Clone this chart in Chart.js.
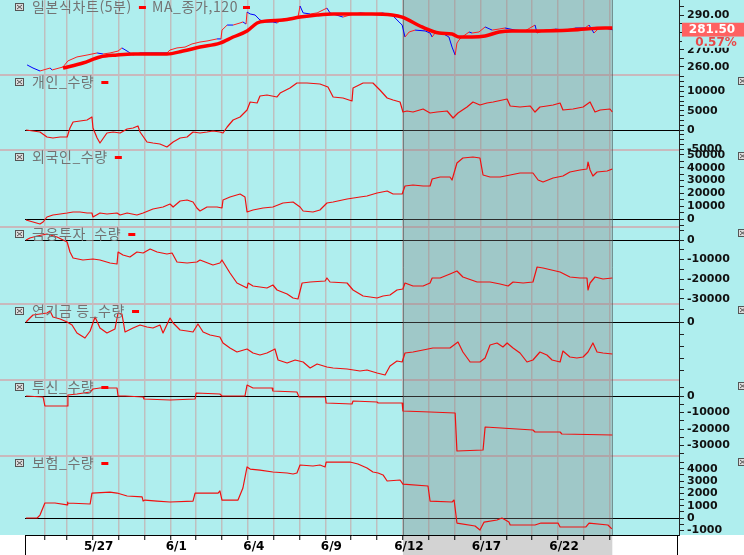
<!DOCTYPE html>
<html lang="ko"><head><meta charset="utf-8"><title>일본식차트</title>
<script src="https://cdn.jsdelivr.net/npm/chart.js@4.4.1/dist/chart.umd.min.js"></script>
<style>
html,body{margin:0;padding:0;background:#ffffff;overflow:hidden;}
#box{position:relative;width:744px;height:555px;}
canvas{display:block;}
</style></head><body>
<div id="box"><canvas id="cv" width="744" height="555"></canvas></div>
<script>
// ================= DATA =================
// day boundaries on the time axis (unit = trading day)
const dayTicks = [0.15,1,2,3,4,5,6,7,8,9,10,11,12,13,14,15,16,17,18,19,20,21,22];
const dayLabels = ['5/25','5/26','5/27','5/28','5/29','6/1','6/2','6/3','6/4','6/5','6/8','6/9','6/10','6/11','6/12','6/15','6/16','6/17','6/18','6/19','6/22','6/23',''];
const shownDays = ['5/27','6/1','6/4','6/9','6/12','6/17','6/22'];
const shadeFromDay = '6/12';

const panelTitles = ['일본식차트(5분)','개인_수량','외국인_수량','금융투자_수량','연기금 등_수량','투신_수량','보험_수량'];
const maLabel = 'MA_종가,120';
const changePct = '0.57%';

// price (5-min close)
const priceT = [-0.54,-0.31,-0.04,0.35,0.43,0.85,1.04,1.39,1.78,2.17,2.40,2.67,2.98,3.13,3.33,3.56,3.83,4.22,4.60,4.87,4.99,5.26,5.57,5.84,6.15,6.42,6.81,6.96,7.00,7.20,7.43,7.70,7.81,7.93,7.97,8.09,8.28,8.47,8.74,8.97,9.13,9.36,9.75,9.94,10.02,10.14,10.41,10.68,11.06,11.18,11.30,11.68,11.95,12.34,12.73,13.19,13.58,13.85,13.97,14.08,14.24,14.47,14.86,15.05,15.13,15.24,15.51,15.78,15.90,16.02,16.09,16.17,16.29,16.56,16.67,16.94,17.18,17.45,17.72,17.95,18.34,18.72,19.11,19.19,19.50,19.89,20.27,20.66,21.04,21.20,21.39,21.59,21.82,22.10];
const priceV = [261.2,259.4,257.7,259.4,258.3,260.0,263.5,265.8,266.9,268.1,267.5,268.1,269.2,271.0,269.2,266.9,268.1,268.1,268.1,268.1,269.8,271.0,271.5,273.3,274.4,275.0,276.2,276.2,281.3,284.2,284.2,285.4,286.0,284.8,291.7,290.6,290.0,287.1,286.0,286.0,285.4,287.7,288.3,288.8,295.2,291.2,290.6,291.2,294.0,291.2,290.6,288.8,290.0,291.2,290.6,291.2,290.0,286.0,284.2,277.3,280.2,281.3,280.8,279.6,277.3,279.6,279.6,277.3,271.5,266.9,273.8,275.6,277.3,280.2,279.6,280.2,283.1,281.3,281.9,282.5,281.3,280.8,284.2,279.6,281.3,281.9,281.3,282.5,282.5,284.2,279.6,282.5,282.5,281.5];

// MA 120
const maT = [0.85,1.62,2.28,2.94,3.56,4.22,4.87,5.49,6.15,6.92,7.43,7.97,8.36,8.74,9.36,10.02,10.68,11.30,11.95,12.80,13.58,13.97,14.74,15.40,15.90,16.17,16.67,17.18,17.72,18.22,19.26,20.54,21.82,22.10];
const maV = [259.4,262.3,265.8,266.9,267.5,267.5,267.5,269.2,271.5,273.8,277.3,280.8,285.4,286.5,287.1,288.8,290.0,290.6,290.6,290.6,290.0,288.8,283.1,279.6,279.0,277.3,277.3,277.9,280.2,280.8,280.8,281.3,282.5,282.5];

// 개인
const indT = [-0.58,-0.31,-0.04,0.23,0.46,0.74,1.01,1.12,1.24,1.51,1.78,1.97,2.01,2.17,2.28,2.55,2.79,3.06,3.33,3.56,3.75,3.83,4.10,4.33,4.60,4.87,5.11,5.38,5.65,5.88,6.15,6.42,6.65,6.92,7.04,7.20,7.43,7.70,7.97,8.09,8.36,8.47,8.74,9.13,9.25,9.63,9.90,10.29,10.79,11.10,11.30,11.68,12.03,12.07,12.46,12.84,13.11,13.39,13.62,13.89,14.00,14.16,14.39,14.78,15.05,15.32,15.71,15.94,16.13,16.48,16.71,16.98,17.25,17.49,18.03,18.15,18.53,18.92,19.11,19.30,19.57,19.81,20.08,20.19,20.58,20.97,21.24,21.43,21.63,22.01,22.10];
const indV = [0,-260,-520,-1810,-2070,-1810,-1810,520,2070,2330,2590,3370,520,-2070,-3370,-780,-520,-780,260,520,1040,-520,-3110,-3370,-3630,-4400,-3110,-2070,-1810,-520,-780,-520,-260,-520,-780,780,2590,3370,5180,7250,6990,8810,9070,8550,9580,10880,12170,12170,11910,11140,8550,8290,7510,10880,12170,12170,10360,8290,7770,7250,4660,4920,4660,5440,4400,4660,4920,3110,4400,5960,7250,6480,6990,7250,8030,6220,5960,6220,4660,5960,6220,6480,6990,5180,5440,5960,7250,4660,5180,5440,4660];

// 외국인
const forT = [-0.58,-0.31,-0.04,0.08,0.23,0.46,0.74,1.01,1.24,1.51,1.78,1.97,2.01,2.28,2.55,2.94,3.06,3.33,3.71,3.95,4.33,4.72,4.99,5.11,5.38,5.65,5.88,6.03,6.15,6.42,6.81,7.00,7.04,7.31,7.70,7.89,7.97,8.20,8.59,8.97,9.36,9.75,10.02,10.14,10.52,10.79,11.06,11.30,11.84,12.34,12.61,13.00,13.39,13.62,13.97,14.08,14.39,14.78,15.05,15.13,15.44,15.82,15.90,16.09,16.32,16.71,16.98,17.10,17.37,17.76,18.15,18.53,19.03,19.23,19.42,19.81,20.19,20.46,20.85,21.12,21.16,21.24,21.35,21.51,21.90,22.10];
const forV = [-780,-2340,-3900,-2340,1560,3120,3900,4690,5470,5470,4690,4690,1560,4690,3900,4690,3120,4690,3120,4690,7810,9370,11720,9370,14060,14840,13280,8590,6250,9370,9370,8590,14840,17180,19530,17180,5470,7030,8590,9370,12500,13280,9370,6250,5470,7030,12500,13280,15620,17180,17960,20310,21870,19530,19530,25770,26550,25770,25770,31240,32800,32800,30460,43740,47640,48420,47640,34360,32800,32800,34360,35930,35930,30460,28900,32020,33580,36710,38270,39050,44520,38270,33580,36710,37490,39050];

// 금융투자
const finT = [-0.58,-0.43,-0.15,0.23,0.62,1.01,1.12,1.24,1.62,2.01,2.28,2.67,2.94,2.98,3.17,3.44,3.71,3.95,4.22,4.49,4.87,5.07,5.26,5.65,6.03,6.15,6.65,6.92,7.00,7.31,7.58,7.97,8.01,8.20,8.74,8.97,9.13,9.52,9.75,9.94,10.10,10.41,10.99,11.06,11.18,11.84,12.07,12.46,13.00,13.23,13.50,13.77,14.00,14.08,14.39,14.78,15.05,15.13,15.44,15.82,16.09,16.32,16.87,17.37,17.76,18.07,18.26,18.65,19.03,19.19,19.42,20.08,20.46,20.85,21.12,21.16,21.24,21.43,21.74,22.10];
const finV = [0,1020,2040,3060,1530,-1020,-6120,-9180,-10200,-9690,-10200,-11730,-12240,-6120,-7650,-8670,-6120,-6630,-4590,-6120,-7140,-6630,-11220,-11730,-11220,-10200,-12750,-11730,-10200,-16830,-21930,-24480,-21930,-23460,-24480,-22950,-25500,-27540,-29580,-30090,-21930,-21420,-20910,-19380,-21420,-21930,-25500,-28560,-29580,-28560,-28050,-25500,-24990,-21930,-23460,-23460,-21930,-19380,-19380,-17340,-15810,-18870,-21420,-21420,-22440,-23460,-21420,-21930,-21420,-13770,-14280,-16320,-18870,-19380,-19380,-25500,-21930,-18870,-19890,-19380];

// 연기금 등
const penT = [-0.58,-0.43,-0.31,-0.04,0.23,0.35,0.46,0.74,1.01,1.20,1.39,1.70,1.90,2.09,2.28,2.55,2.86,2.98,3.13,3.25,3.56,3.83,4.10,4.33,4.60,4.72,4.99,5.11,5.38,5.65,5.88,6.07,6.27,6.54,6.92,7.04,7.31,7.58,7.97,8.20,8.47,8.74,9.05,9.17,9.52,9.83,10.14,10.41,10.68,11.06,11.30,11.84,12.34,12.61,13.00,13.31,13.50,13.77,13.97,14.08,14.39,14.78,15.16,15.55,15.82,16.13,16.32,16.60,16.98,17.18,17.37,17.64,17.87,18.03,18.26,18.53,18.80,19.03,19.30,19.57,19.77,20.08,20.19,20.46,20.73,20.97,21.16,21.35,21.51,21.74,22.10];
const penV = [0,3330,5830,6660,7500,9160,4170,2500,0,-2500,-9160,-13330,-7500,4170,-5000,-9160,-5830,7500,6660,-8330,-5000,-2500,-4170,-5000,-2500,-9160,3330,-830,-6660,-7500,-8330,-1670,-8330,-10830,-12500,-17490,-21660,-24990,-22490,-25820,-27490,-25820,-22490,-31650,-34150,-31650,-33320,-38320,-34990,-37490,-38320,-39150,-40820,-39980,-42480,-44150,-36650,-32490,-33320,-25820,-24990,-23320,-21660,-21660,-21660,-16660,-24990,-33320,-33320,-29990,-19160,-17490,-20830,-17490,-21660,-25820,-33320,-31650,-24990,-27490,-31650,-33320,-24160,-29160,-29990,-29160,-24990,-17490,-24990,-25820,-26660];

// 투신
const truT = [-0.58,0.08,0.15,1.01,1.04,1.39,1.90,2.01,2.28,2.94,2.98,3.25,3.95,3.98,4.99,5.96,6.00,6.92,7.00,7.89,7.97,8.20,8.94,8.97,9.90,9.98,11.00,11.03,12.03,12.07,13.00,13.04,13.97,14.00,15.05,16.02,16.09,17.10,17.18,19.03,19.11,20.08,20.15,22.10];
const truV = [0,-610,-6060,-6060,610,1210,2420,4240,4850,4850,0,0,-610,-1820,-2420,-1820,1820,1210,0,0,6670,4850,4850,3030,2420,-610,-610,-4240,-4850,-3030,-3640,-4240,-4240,-9090,-9700,-10300,-33330,-32720,-18790,-20600,-21820,-21820,-23030,-23630];

// 보험
const insT = [-0.58,-0.15,-0.04,0.15,0.54,1.01,1.02,1.04,1.90,1.97,2.67,2.94,3.33,3.91,3.95,4.02,4.49,4.99,5.88,5.96,6.85,6.92,7.00,7.62,7.81,7.97,8.09,8.47,8.97,9.52,9.75,9.90,10.02,10.52,10.79,10.99,11.03,11.95,12.26,12.61,12.84,13.04,13.23,13.39,13.89,14.00,14.97,15.05,15.90,15.98,16.09,16.79,16.98,17.14,17.64,17.83,18.10,18.15,19.11,19.34,20.00,20.08,21.08,21.20,21.93,22.08];
const insV = [0,0,240,1220,1220,1060,1300,1220,1140,2030,2110,2030,1790,1710,1380,1460,1380,1300,1380,2030,2030,2200,1460,1460,2440,4150,3980,3900,3740,3660,3580,3660,4310,4230,4310,4150,4550,4550,4390,4070,3740,3660,3500,3010,3090,2760,2600,1380,1300,1460,-410,-650,-980,-330,-160,0,-330,-570,-570,-410,-410,-730,-730,-410,-570,-890];

// ================= CHART =================
const FONT = '"DejaVu Sans", "Liberation Sans", sans-serif';
const KFONT = '"Noto Sans CJK KR", "Noto Sans", sans-serif';
const BG = '#afeeee';
const pts = (T, V) => T.map((t, i) => ({x: t, y: V[i]}));
function tickList(from, to, step) { const a = []; for (let v = from; v <= to + 1e-9; v += step) a.push(Math.round(v * 100) / 100); return a; }

const axisDefs = [
  {id: 'yP',   h: 75, min: 255.38, max: 298.66, ticks: tickList(260, 295, 5),          major: v => v % 10 === 0,   fmt: v => v.toFixed(2), zero: false},
  {id: 'yInd', h: 75, min: -5180,  max: 14245,  ticks: tickList(-5000, 13750, 1250),   major: v => v % 5000 === 0, fmt: v => String(v), zero: true},
  {id: 'yFor', h: 77, min: -6248,  max: 53889,  ticks: tickList(-5000, 50000, 5000),   major: v => v % 10000 === 0, fmt: v => String(v), zero: true},
  {id: 'yFin', h: 77, min: -32640, max: 6630,   ticks: tickList(-30000, 5000, 5000),   major: v => v % 10000 === 0, fmt: v => String(v), zero: true},
  {id: 'yPen', h: 76, min: -48314, max: 14994,  ticks: tickList(-40000, 10000, 10000), major: v => v === 0,        fmt: v => String(v), zero: true},
  {id: 'yTru', h: 76, min: -36360, max: 9696,   ticks: tickList(-35000, 5000, 5000),   major: v => v % 10000 === 0, fmt: v => String(v), zero: true},
  {id: 'yIns', h: 79, min: -1382,  max: 5041,   ticks: tickList(-1000, 4500, 500),     major: v => v % 1000 === 0,  fmt: v => String(v), zero: true}
];

const scales = {
  x: {
    type: 'linear', position: 'bottom', min: -0.62, max: 24.68,
    grid: {drawOnChartArea: true, color: '#bfbfbf', lineWidth: 1.5, tickColor: '#000', tickWidth: 1, tickLength: 5},
    border: {display: true, color: '#000', width: 1},
    ticks: {autoSkip: false, maxRotation: 0, minRotation: 0, padding: 0, labelOffset: 6, color: '#000',
      font: {family: FONT, weight: 'bold', size: 12},
      callback: (v, i) => shownDays.includes(dayLabels[i]) ? dayLabels[i] : ''},
    afterBuildTicks: s => { s.ticks = dayTicks.map(v => ({value: v})); },
    afterFit: s => { s.height = 20; s.paddingLeft = 0; s.paddingRight = 0; }
  }
};
axisDefs.forEach(d => {
  scales[d.id] = {
    type: 'linear', position: 'right', stack: 'panels', stackWeight: d.h, min: d.min, max: d.max,
    grid: {drawOnChartArea: true, lineWidth: 1, tickColor: '#222', tickWidth: 1, tickLength: 5,
      color: c => (d.zero && c.tick && c.tick.value === 0) ? '#000000' : 'rgba(0,0,0,0)'},
    border: {display: true, color: '#222', width: 1},
    ticks: {autoSkip: false, padding: 3, color: '#111', font: {family: FONT, weight: 'bold', size: 11},
      callback: v => d.major(v) ? d.fmt(v) : ''},
    afterBuildTicks: s => { s.ticks = d.ticks.map(v => ({value: v})); },
    afterFit: s => { s.width = 65; s.paddingTop = 0; s.paddingBottom = 0; }
  };
});

const RED = '#f01010';
const panelData = [[indT, indV], [forT, forV], [finT, finV], [penT, penV], [truT, truV], [insT, insV]];
const datasets = [
  {label: maLabel, data: pts(maT, maV), yAxisID: 'yP', borderColor: '#ff0000', borderWidth: 3.5, pointRadius: 0,
   cubicInterpolationMode: 'monotone', tension: 0.4},
  {label: panelTitles[0], data: pts(priceT, priceV), yAxisID: 'yP', borderWidth: 1, pointRadius: 0, borderColor: '#0000ff',
   segment: {borderColor: c => c.p1.parsed.y > c.p0.parsed.y ? '#ff2020' : '#0000ff'}}
];
panelData.forEach((p, i) => {
  datasets.push({label: panelTitles[i + 1], data: pts(p[0], p[1]), yAxisID: axisDefs[i + 1].id,
    borderColor: RED, borderWidth: 1.2, pointRadius: 0, tension: 0});
});

function drawIcon(ctx, x, y) {
  ctx.save();
  ctx.fillStyle = '#dcdcdc'; ctx.fillRect(x, y, 9, 8);
  ctx.strokeStyle = '#555'; ctx.lineWidth = 1;
  ctx.strokeRect(x + 0.5, y + 0.5, 8, 7);
  ctx.beginPath(); ctx.moveTo(x + 2, y + 2); ctx.lineTo(x + 7, y + 6); ctx.moveTo(x + 7, y + 2); ctx.lineTo(x + 2, y + 6); ctx.stroke();
  ctx.restore();
}

function shadeRange(chart) {
  const xs = chart.scales.x;
  const x0 = xs.getPixelForValue(dayTicks[dayLabels.indexOf(shadeFromDay)]);
  const x1 = xs.getPixelForValue(priceT[priceT.length - 1]);
  return [x0, x1];
}

const deco = {
  id: 'deco',
  beforeDraw(chart) {
    const {ctx, chartArea} = chart;
    const [x0, x1] = shadeRange(chart);
    ctx.save();
    ctx.fillStyle = BG; ctx.fillRect(0, 0, chart.width, chartArea.bottom);
    ctx.fillStyle = '#ffffff'; ctx.fillRect(0, chartArea.bottom, chart.width, chart.height - chartArea.bottom);
    ctx.fillStyle = '#d3d3d3'; ctx.fillRect(x0, chartArea.bottom, x1 - x0, chart.height - chartArea.bottom);
    ctx.restore();
  },
  beforeDatasetsDraw(chart) {
    const {ctx, chartArea} = chart;
    ctx.save();
    ctx.strokeStyle = '#c9b9bd'; ctx.lineWidth = 2;
    axisDefs.forEach((d, i) => {
      if (i === 0) return;
      const y = Math.round(chart.scales[d.id].top);
      ctx.beginPath(); ctx.moveTo(0, y); ctx.lineTo(chartArea.right, y); ctx.stroke();
    });
    const [x0, x1] = shadeRange(chart);
    ctx.fillStyle = 'rgba(128,128,128,0.35)';
    ctx.fillRect(x0, chartArea.top, x1 - x0, chartArea.bottom - chartArea.top);
    ctx.strokeStyle = 'rgba(70,80,80,0.55)'; ctx.lineWidth = 1;
    ctx.beginPath();
    ctx.moveTo(Math.round(x0) + 0.5, chartArea.top); ctx.lineTo(Math.round(x0) + 0.5, chartArea.bottom);
    ctx.moveTo(Math.round(x1) + 0.5, chartArea.top); ctx.lineTo(Math.round(x1) + 0.5, chartArea.bottom);
    ctx.stroke();
    ctx.restore();
  },
  afterDraw(chart) {
    const {ctx, chartArea} = chart;
    ctx.save();
    // legends
    axisDefs.forEach((d, i) => {
      const top = chart.scales[d.id].top;
      const cy = top + 7;
      drawIcon(ctx, 15, cy - 4);
      if (i > 0) drawIcon(ctx, 738, top + 2);
      ctx.font = '14px ' + KFONT; ctx.textBaseline = 'middle'; ctx.textAlign = 'left';
      try { ctx.letterSpacing = '0.6px'; } catch (e) {}
      let x = 32;
      ctx.fillStyle = '#737373'; ctx.fillText(panelTitles[i], x, cy);
      x += ctx.measureText(panelTitles[i]).width + 7;
      ctx.fillStyle = '#ff0000'; ctx.fillRect(x, cy - 1, 7, 3);
      if (i === 0) {
        x += 13;
        ctx.fillStyle = '#737373'; ctx.fillText(maLabel, x, cy);
        x += ctx.measureText(maLabel).width + 5;
        ctx.fillStyle = '#ff0000'; ctx.fillRect(x, cy - 1, 7, 3);
      }
      try { ctx.letterSpacing = '0px'; } catch (e) {}
    });
    // last price box
    const last = priceV[priceV.length - 1];
    const py = chart.scales.yP.getPixelForValue(last);
    ctx.fillStyle = '#ff6262'; ctx.fillRect(682, py - 7, 62, 14);
    ctx.fillStyle = '#ffffff'; ctx.font = 'bold 12px ' + FONT; ctx.textAlign = 'center'; ctx.textBaseline = 'middle';
    ctx.fillText(last.toFixed(2), 712, py);
    ctx.fillStyle = BG; ctx.fillRect(682, py + 7, 62, 11);
    ctx.fillStyle = '#e84848'; ctx.fillText(changePct, 716, py + 13);
    // x-axis box sides
    ctx.strokeStyle = '#000'; ctx.lineWidth = 1;
    ctx.beginPath();
    ctx.moveTo(25.5, chartArea.bottom); ctx.lineTo(25.5, chart.height);
    ctx.moveTo(677.5, chartArea.bottom); ctx.lineTo(677.5, chart.height);
    ctx.stroke();
    ctx.restore();
  }
};

new Chart(document.getElementById('cv'), {
  type: 'line',
  data: {datasets},
  options: {
    responsive: false, maintainAspectRatio: false, animation: false, devicePixelRatio: 1,
    parsing: true, normalized: true,
    layout: {padding: {left: 25, right: 0, top: 0, bottom: 0}},
    plugins: {legend: {display: false}, tooltip: {enabled: false}, title: {display: false}},
    elements: {line: {borderJoinStyle: 'round'}},
    scales
  },
  plugins: [deco]
});
</script>
</body></html>
